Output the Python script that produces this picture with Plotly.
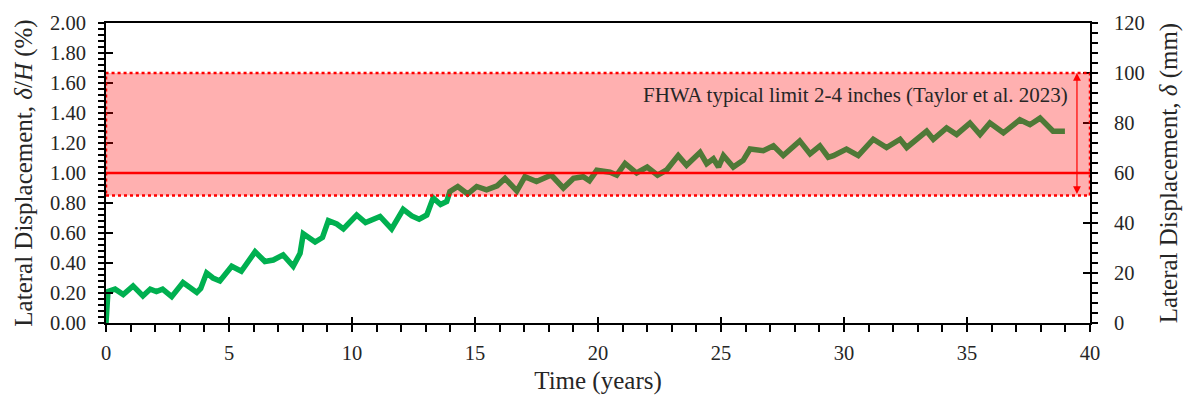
import plotly.graph_objects as go

# Time (years) and lateral displacement delta/H (%)
time_years = [0.0, 0.04, 0.08, 0.37, 0.70, 1.1, 1.5, 1.8, 2.05, 2.3, 2.67, 3.13, 3.69, 3.85,
              4.09, 4.35, 4.63, 5.11, 5.5, 6.06, 6.46, 6.8, 7.2, 7.61, 7.89, 8.02, 8.3, 8.5,
              8.8, 9.04, 9.38, 9.65, 10.19, 10.55, 11.14, 11.61, 12.08, 12.43, 12.73, 13.04,
              13.3, 13.6, 13.85, 13.98, 14.3, 14.7, 15.07, 15.47, 15.9, 16.22, 16.7, 17.03,
              17.5, 18.1, 18.59, 19.0, 19.4, 19.65, 19.95, 20.49, 20.76, 21.1, 21.57, 22.0,
              22.42, 22.79, 23.26, 23.6, 24.15, 24.42, 24.69, 24.9, 25.1, 25.5, 25.9, 26.18,
              26.72, 27.13, 27.53, 28.2, 28.62, 29.02, 29.36, 29.57, 30.1, 30.58, 31.19,
              31.73, 32.28, 32.55, 33.36, 33.63, 34.17, 34.58, 35.12, 35.53, 35.93, 36.48,
              37.15, 37.56, 37.97, 38.5, 38.98]
disp_pct = [0.0, 0.12, 0.21, 0.226, 0.19, 0.247, 0.18, 0.226, 0.21, 0.226, 0.176, 0.27, 0.204, 0.23,
            0.334, 0.30, 0.28, 0.378, 0.345, 0.475, 0.41, 0.42, 0.454, 0.378, 0.465, 0.595, 0.56, 0.54,
            0.57, 0.682, 0.66, 0.627, 0.72, 0.67, 0.71, 0.627, 0.758, 0.714, 0.692, 0.72,
            0.834, 0.79, 0.81, 0.877, 0.91, 0.86, 0.91, 0.888, 0.915, 0.964, 0.88, 0.975,
            0.943, 0.986, 0.90, 0.964, 0.975, 0.948, 1.018, 1.005, 0.986, 1.064, 1.0, 1.04,
            0.986, 1.02, 1.116, 1.051, 1.138, 1.062, 1.095, 1.04, 1.116, 1.04, 1.084, 1.16,
            1.149, 1.181, 1.116, 1.214, 1.127, 1.181, 1.105, 1.116, 1.16, 1.116, 1.225,
            1.17, 1.225, 1.17, 1.279, 1.225, 1.301, 1.257, 1.333, 1.257, 1.333, 1.268,
            1.355, 1.322, 1.366, 1.279, 1.279]

band_low_pct = 0.85
band_high_pct = 1.667
ref_line_pct = 1.00
arrow_x = 39.47
label_text = "FHWA typical limit 2-4 inches (Taylor et al. 2023)"

FONT = "Liberation Serif, Times New Roman, serif"
TXT = "#262626"

fig = go.Figure()
fig.add_trace(go.Scatter(x=time_years, y=disp_pct, mode="lines",
                         line=dict(color="#00B050", width=5.5), showlegend=False,
                         hoverinfo="skip"))
# helper traces so the overlay / secondary axes are drawn
fig.add_trace(go.Scatter(x=[None], y=[None], xaxis="x2", yaxis="y3", showlegend=False))
fig.add_trace(go.Scatter(x=[None], y=[None], xaxis="x", yaxis="y2", showlegend=False))
fig.add_trace(go.Scatter(x=[None], y=[None], xaxis="x2", yaxis="y4", showlegend=False))

# shaded limit band (above the line, semi transparent)
fig.add_shape(type="rect", xref="x", yref="y", x0=0, x1=40, y0=band_low_pct, y1=band_high_pct,
              fillcolor="rgba(255,0,0,0.31)", line=dict(color="#FF0000", width=2.5, dash="dot"),
              layer="above")
fig.add_shape(type="line", xref="x", yref="y", x0=0, x1=40, y0=ref_line_pct, y1=ref_line_pct,
              line=dict(color="#FF0000", width=2.5), layer="above")

# double-headed arrow
fig.add_annotation(x=arrow_x, y=band_high_pct, ax=arrow_x, ay=band_low_pct, xref="x", yref="y",
                   axref="x", ayref="y", showarrow=True, arrowhead=2, startarrowhead=2,
                   arrowside="end+start", arrowcolor="#FF0000", arrowwidth=1.2, arrowsize=1.3,
                   startarrowsize=1.3, text="")
fig.add_annotation(x=39.2, y=1.518, xref="x", yref="y", text=label_text, showarrow=False,
                   xanchor="right", yanchor="middle", font=dict(family=FONT, size=21, color=TXT))

tickfont = dict(family=FONT, size=20.5, color=TXT)
titlefont = dict(family=FONT, size=25, color=TXT)

fig.update_layout(
    width=1190, height=404,
    margin=dict(l=106, r=100, t=16, b=81),
    paper_bgcolor="white", plot_bgcolor="white",
    xaxis=dict(range=[0, 40], dtick=5, tick0=0, showgrid=False, zeroline=False,
               showline=True, linecolor="black", linewidth=2, mirror=True,
               ticks="outside", ticklen=7, tickwidth=2, tickcolor="black",
               minor=dict(dtick=1, ticks="outside", ticklen=7, tickwidth=2, tickcolor="black"),
               tickfont=tickfont, ticklabelstandoff=3,
               title=dict(text="Time (years)", font=titlefont, standoff=9)),
    xaxis2=dict(range=[0, 40], overlaying="x", dtick=5, tick0=0, showgrid=False, zeroline=False,
                showline=False, ticks="inside", ticklen=6, tickwidth=2, tickcolor="black",
                showticklabels=False, side="bottom"),
    yaxis=dict(range=[0, 2.0], dtick=0.2, tick0=0, tickformat=".2f", showgrid=False,
               zeroline=False, showline=True, linecolor="black", linewidth=2,
               ticks="outside", ticklen=6, tickwidth=2, tickcolor="black",
               minor=dict(dtick=0.04, ticks="outside", ticklen=6, tickwidth=2, tickcolor="black"),
               tickfont=tickfont, ticklabelstandoff=8,
               title=dict(text="Lateral Displacement, <i>δ</i>/<i>H</i> (%)", font=titlefont,
                          standoff=10)),
    yaxis2=dict(range=[0, 120], dtick=20, tick0=0, overlaying="y", side="right", showgrid=False,
                zeroline=False, showline=True, linecolor="black", linewidth=2,
                ticks="outside", ticklen=6, tickwidth=2, tickcolor="black",
                minor=dict(dtick=4, ticks="outside", ticklen=6, tickwidth=2, tickcolor="black"),
                tickfont=tickfont, ticklabelstandoff=12,
                title=dict(text="Lateral Displacement, <i>δ</i> (mm)", font=titlefont, standoff=16)),
    yaxis3=dict(range=[0, 2.0], dtick=0.2, tick0=0, overlaying="y", side="left", showgrid=False,
                zeroline=False, showline=False, ticks="inside", ticklen=7, tickwidth=2,
                tickcolor="black", showticklabels=False),
    yaxis4=dict(range=[0, 120], dtick=20, tick0=0, overlaying="y", side="right", showgrid=False,
                zeroline=False, showline=False, ticks="inside", ticklen=7, tickwidth=2,
                tickcolor="black", showticklabels=False),
)

fig.write_html("out.html")
